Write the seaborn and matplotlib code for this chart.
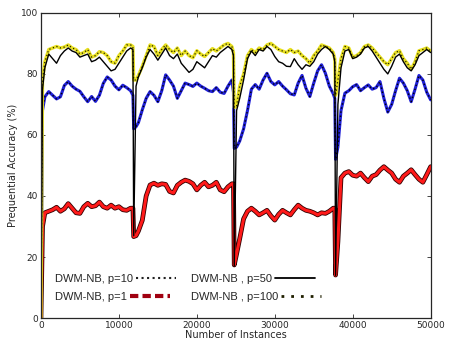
import seaborn as sns
import matplotlib
matplotlib.use("Agg")
import matplotlib.pyplot as plt
from matplotlib.lines import Line2D

# sample positions (number of instances), with extra points around the drifts
instances = ([0, 200] + list(range(500, 11501, 500)) + [11800]
             + [11900, 12200] + list(range(12500, 24501, 500)) + [24700]
             + [24800, 25100] + list(range(25500, 37501, 500)) + [37700]
             + [37800, 38100] + list(range(38500, 50001, 500)))

acc_p100 = [0, 78, 84, 88, 88.5, 89, 88.5, 88.8, 89.5, 88.5, 88, 86.5, 87, 88, 85.5, 86, 87.3, 87, 86, 84, 83.5, 86, 87.5, 89.5, 89.5, 89,
            78, 78, 79.5, 82.5, 86, 89.5, 89, 86, 88, 89.5, 88, 87, 88.5, 86, 87.5, 86, 85.3, 87.6, 86.5, 85.7, 87, 88.3, 87.5, 88.5, 89.5, 90, 89, 87,
            69, 69.5, 76, 80, 86, 88, 87, 88.5, 88, 89.5, 90, 89, 88, 87.5, 87, 88, 87, 87.5, 86, 85, 83.5, 86, 87.5, 89.5, 89, 88.5, 87, 85,
            73, 78, 85, 89, 88.5, 85.5, 86, 87, 89, 89.5, 88.5, 87, 85.5, 84, 83, 85, 87, 87.6, 85, 83.5, 81.5, 84, 87.6, 88, 88.5, 87.5]

acc_p50 = [0, 75, 82, 86.5, 85, 83.5, 86, 87.5, 88.5, 87.5, 87, 85.5, 86, 86.5, 84, 84.5, 85.5, 84, 82.5, 81, 81.5, 83.5, 85.5, 87.5, 88.5, 88,
           27, 76, 79, 82, 85.5, 88, 86.5, 84.5, 86.5, 88.5, 86, 85, 86.5, 83.5, 82, 80.5, 81.5, 84, 83, 82, 84, 86, 85.5, 87, 88, 89, 88, 86,
           17, 68, 72, 78, 85, 87.5, 86, 88, 87.5, 89, 88, 85.7, 84, 83.5, 82.5, 82.4, 85, 83, 81.5, 83, 82.5, 84, 86.5, 88, 89, 88, 86.5, 84,
           14, 70, 82, 87.5, 88, 85, 85.5, 86.5, 88.5, 89, 87.5, 85.5, 83.5, 81.5, 80, 82.5, 85.5, 86.5, 84, 82, 81, 83, 86, 87, 88, 87]

acc_p10 = [0, 68, 72.5, 74.2, 73, 71.8, 72.5, 76.2, 77.5, 76, 75, 74.3, 72.5, 70.9, 72.6, 71, 73, 76.9, 79, 78, 76, 74.8, 76.3, 75.5, 74.5, 73,
           62, 62.7, 64, 68.2, 72, 74.2, 73, 70.9, 74.5, 79.7, 78, 76, 72, 74.5, 77, 76.5, 75.9, 77, 76, 75.3, 74.5, 74.2, 75.5, 74, 73.6, 76, 78, 74,
           55.6, 56, 58, 62, 68, 75, 76.5, 75, 78, 80.2, 77.5, 76.4, 77.5, 76, 74.8, 73.5, 73.1, 77, 79.5, 75.3, 72.6, 77, 81, 83, 80.2, 76, 73.5, 72,
           52, 56, 68, 73.7, 74.5, 75.8, 76.5, 74.5, 75.5, 76.4, 75, 75.5, 77.5, 72, 67.5, 70, 74.5, 78.6, 77, 74.5, 70.9, 75, 79.5, 78, 74, 71.5]

acc_p1 = [0, 30, 34.5, 35, 35.5, 36.3, 35, 35.8, 37.5, 36, 34.5, 34.3, 36.5, 37.6, 36.5, 36.8, 38, 36.5, 36, 37, 36, 36.5, 35.5, 35.3, 36, 36,
          26.7, 27, 28.5, 32, 40, 43.6, 44.2, 43.5, 44, 43.8, 41.5, 41, 43.5, 44.5, 45.2, 44.8, 44, 42, 43.5, 44.5, 43, 43.5, 44.5, 42, 41.4, 43, 44, 44,
          17.4, 21, 26, 32.5, 35, 36, 35, 33.8, 34.5, 35.3, 33.5, 32.1, 34, 35.3, 34.5, 33.8, 35.5, 37, 36, 35.3, 35, 34.5, 33.8, 34.5, 34.3, 35, 36, 36,
          14.1, 25, 46, 47.5, 48, 46.8, 46.5, 47.5, 46, 44.7, 46.5, 47, 48.5, 49.6, 48.5, 47.5, 45.5, 44.5, 46.5, 47.5, 48.6, 47, 45.5, 44.5, 47, 49.6]

labels = ['DWM-NB, p=10', 'DWM-NB, p=1', 'DWM-NB , p=50', 'DWM-NB , p=100']

sns.set_style("ticks")
plt.rcParams['xtick.direction'] = 'in'
plt.rcParams['ytick.direction'] = 'in'
plt.rcParams['xtick.top'] = True
plt.rcParams['ytick.right'] = True

fig = plt.figure(figsize=(4.5, 3.48), dpi=100)
ax = fig.add_axes([0.091, 0.086, 0.866, 0.877])

# p=10: blue band with black dots
sns.lineplot(x=instances, y=acc_p10, ax=ax, color='#2020d8', lw=2.2, estimator=None, sort=False)
sns.lineplot(x=instances, y=acc_p10, ax=ax, color='black', lw=1, ls=(0, (1, 2)), estimator=None, sort=False)
# p=1: red band, dark edged
sns.lineplot(x=instances, y=acc_p1, ax=ax, color='#300000', lw=3.4, estimator=None, sort=False)
sns.lineplot(x=instances, y=acc_p1, ax=ax, color='#ff1a1a', lw=2.2, estimator=None, sort=False)
# p=100: yellow band with black dots
sns.lineplot(x=instances, y=acc_p100, ax=ax, color='#e8e020', lw=2.4, estimator=None, sort=False)
sns.lineplot(x=instances, y=acc_p100, ax=ax, color='#202000', lw=0.9, ls=(0, (1, 2)), estimator=None, sort=False)
# p=50: solid black
sns.lineplot(x=instances, y=acc_p50, ax=ax, color='black', lw=1.0, estimator=None, sort=False)

ax.set_xlim(0, 50000)
ax.set_ylim(0, 100)
ax.set_xticks([0, 10000, 20000, 30000, 40000, 50000])
ax.set_yticks([0, 20, 40, 60, 80, 100])
ax.tick_params(labelsize=6.5, length=3, width=0.6, pad=2)
for s in ax.spines.values():
    s.set_linewidth(0.9)
ax.set_xlabel('Number of Instances', fontsize=7, labelpad=0)
ax.set_ylabel('Prequential Accuracy (%)', fontsize=7, labelpad=2)

handles = [
    Line2D([], [], color='#202020', lw=1.5, ls=':'),
    Line2D([], [], color='#a00010', lw=3, ls='--', dashes=(2, 1)),
    Line2D([], [], color='black', lw=1.3),
    Line2D([], [], color='#202000', lw=2, ls=':', dashes=(1, 2.5)),
]
leg = ax.legend(handles, labels, loc='lower left', ncol=2, frameon=False, markerfirst=False,
                prop={'family': 'Liberation Sans', 'size': 8}, handlelength=3.6,
                handletextpad=0.3, columnspacing=1.3, labelspacing=0.7,
                bbox_to_anchor=(0.01, 0.02))
# keep the label text left-aligned inside each column
for col in leg._legend_handle_box.get_children():
    col.align = 'left'

fig.savefig('out.png', dpi=100)
